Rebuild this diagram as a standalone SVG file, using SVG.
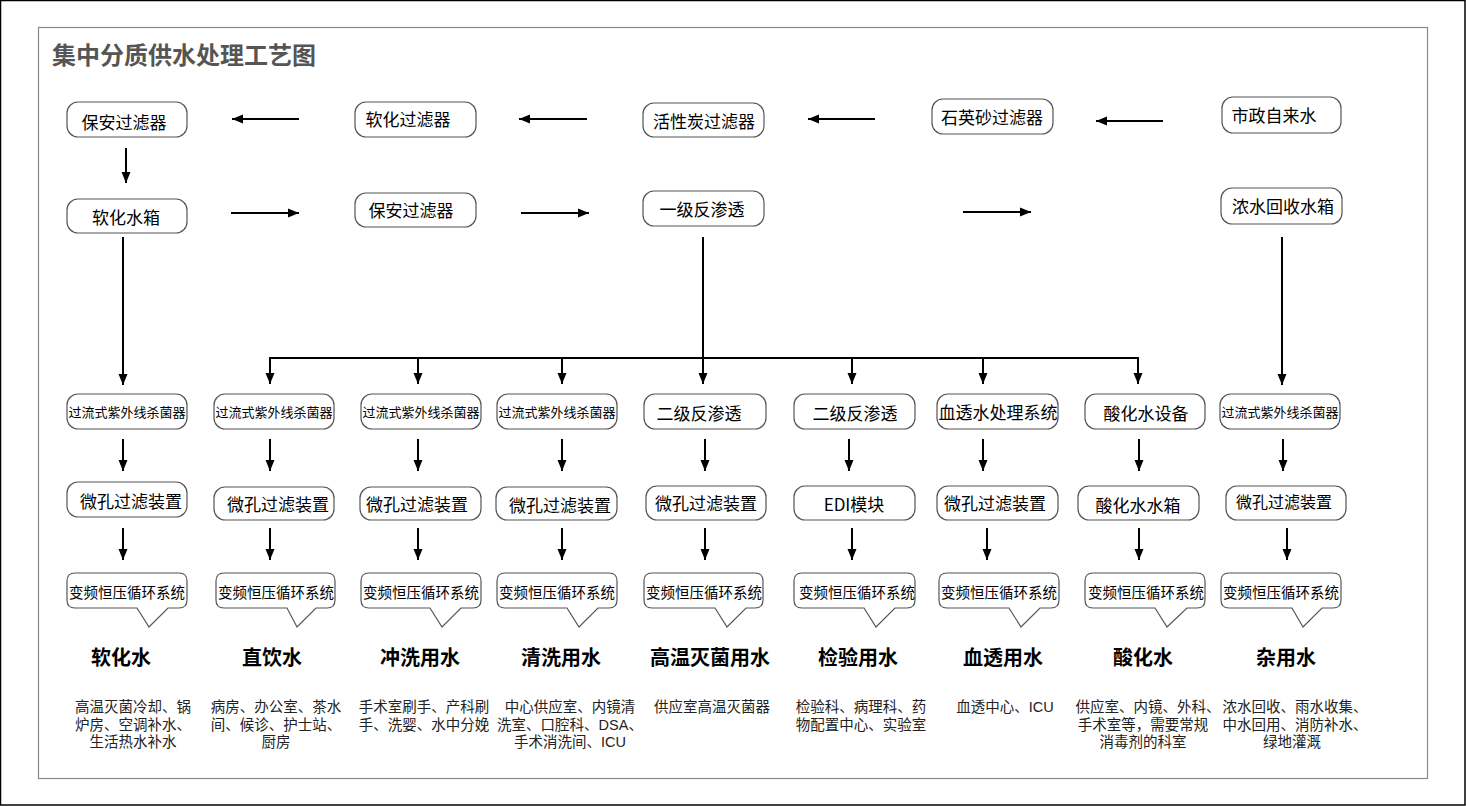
<svg xmlns="http://www.w3.org/2000/svg" width="1466" height="806" viewBox="0 0 1466 806">
<defs>
<marker id="ah" markerUnits="userSpaceOnUse" markerWidth="12" markerHeight="12" viewBox="0 0 12 12" refX="11" refY="6" orient="auto">
<path d="M0,1.5 L11,6 L0,10.5 Z" fill="#000"/>
</marker>
</defs>
<style>
.box{fill:#fff;stroke:#555;stroke-width:1.2}
.t{font-family:"Noto Sans CJK SC","Liberation Sans",sans-serif;font-size:17px;fill:#000;text-anchor:middle;dominant-baseline:central}
.ts{font-size:14.5px}
.tu{font-size:13px}
.h{font-family:"Noto Sans CJK SC","Liberation Sans",sans-serif;font-size:20px;font-weight:bold;fill:#000;text-anchor:middle}
.d{font-family:"Liberation Sans","Noto Sans CJK SC",sans-serif;font-size:14.5px;fill:#222;text-anchor:middle}
.c{fill:none;stroke:#000;stroke-width:2}
.a{fill:none;stroke:#000;stroke-width:2;marker-end:url(#ah)}
</style>
<rect x="0.5" y="0.5" width="1464.5" height="804.5" fill="#fff" stroke="#000" stroke-width="1.5"/>
<rect x="38.5" y="27.5" width="1389" height="751" fill="#fff" stroke="#888" stroke-width="1.2"/>
<text x="52" y="64" font-family="'Noto Sans CJK SC','Liberation Sans',sans-serif" font-size="24" font-weight="bold" fill="#555">集中分质供水处理工艺图</text>

<g id="connectors">
<line class="a" x1="299" y1="119" x2="232" y2="119"/>
<line class="a" x1="587" y1="119" x2="519" y2="119"/>
<line class="a" x1="875" y1="119" x2="808" y2="119"/>
<line class="a" x1="1163" y1="121" x2="1096" y2="121"/>
<line class="a" x1="126" y1="148" x2="126" y2="183"/>
<line class="a" x1="231" y1="213" x2="299" y2="213"/>
<line class="a" x1="521" y1="213" x2="589" y2="213"/>
<line class="a" x1="963" y1="212" x2="1031" y2="212"/>
<line class="a" x1="123" y1="237" x2="123" y2="385"/>
<line class="a" x1="703" y1="237" x2="703" y2="384"/>
<line class="a" x1="1282" y1="237" x2="1282" y2="385"/>
<line class="c" x1="269" y1="358" x2="1139" y2="358"/>
<line class="a" x1="270" y1="357" x2="270" y2="384"/>
<line class="a" x1="418" y1="357" x2="418" y2="384"/>
<line class="a" x1="562" y1="357" x2="562" y2="384"/>
<line class="a" x1="852" y1="357" x2="852" y2="384"/>
<line class="a" x1="983" y1="357" x2="983" y2="384"/>
<line class="a" x1="1138" y1="357" x2="1138" y2="384"/>
<line class="a" x1="123" y1="439" x2="123" y2="471"/>
<line class="a" x1="270" y1="439" x2="270" y2="471"/>
<line class="a" x1="418" y1="439" x2="418" y2="471"/>
<line class="a" x1="562" y1="439" x2="562" y2="471"/>
<line class="a" x1="705" y1="439" x2="705" y2="471"/>
<line class="a" x1="849" y1="439" x2="849" y2="471"/>
<line class="a" x1="983" y1="439" x2="983" y2="471"/>
<line class="a" x1="1139" y1="439" x2="1139" y2="471"/>
<line class="a" x1="1283" y1="439" x2="1283" y2="471"/>
<line class="a" x1="123" y1="528" x2="123" y2="560"/>
<line class="a" x1="270" y1="528" x2="270" y2="560"/>
<line class="a" x1="418" y1="528" x2="418" y2="560"/>
<line class="a" x1="562" y1="528" x2="562" y2="560"/>
<line class="a" x1="705" y1="528" x2="705" y2="560"/>
<line class="a" x1="852" y1="528" x2="852" y2="560"/>
<line class="a" x1="987" y1="528" x2="987" y2="560"/>
<line class="a" x1="1139" y1="528" x2="1139" y2="560"/>
<line class="a" x1="1287" y1="528" x2="1287" y2="560"/>
</g>

<!-- Row 1 -->
<g id="n-baoan1"><rect class="box" x="67" y="102" width="120" height="35" rx="11"/><text class="t" x="124" y="121">保安过滤器</text></g>
<g id="n-ruanhua-filter"><rect class="box" x="355" y="102" width="121" height="35" rx="11"/><text class="t" x="408" y="118">软化过滤器</text></g>
<g id="n-huoxingtan"><rect class="box" x="643" y="103" width="121" height="34" rx="11"/><text class="t" x="704" y="120">活性炭过滤器</text></g>
<g id="n-shiying"><rect class="box" x="932" y="99" width="121" height="35" rx="11"/><text class="t" x="992" y="116">石英砂过滤器</text></g>
<g id="n-shizheng"><rect class="box" x="1222" y="97" width="119" height="36" rx="11"/><text class="t" x="1274" y="114">市政自来水</text></g>

<!-- Row 2 -->
<g id="n-ruanhua-tank"><rect class="box" x="67" y="199" width="120" height="34" rx="11"/><text class="t" x="126" y="216">软化水箱</text></g>
<g id="n-baoan2"><rect class="box" x="355" y="193" width="121" height="34" rx="11"/><text class="t" x="411" y="209">保安过滤器</text></g>
<g id="n-ro1"><rect class="box" x="643" y="191" width="121" height="35" rx="11"/><text class="t" x="702" y="208">一级反渗透</text></g>
<g id="n-nongshui"><rect class="box" x="1221" y="188" width="121" height="36" rx="11"/><text class="t" x="1283" y="205">浓水回收水箱</text></g>

<!-- Row 3 -->
<g id="n-uv1"><rect class="box" x="67" y="394" width="120" height="35" rx="11"/><text class="t tu" x="127" y="411">过流式紫外线杀菌器</text></g>
<g id="n-uv2"><rect class="box" x="214" y="394" width="120" height="35" rx="11"/><text class="t tu" x="274" y="411">过流式紫外线杀菌器</text></g>
<g id="n-uv3"><rect class="box" x="361" y="394" width="120" height="35" rx="11"/><text class="t tu" x="421" y="411">过流式紫外线杀菌器</text></g>
<g id="n-uv4"><rect class="box" x="497" y="394" width="120" height="35" rx="11"/><text class="t tu" x="557" y="411">过流式紫外线杀菌器</text></g>
<g id="n-ro2a"><rect class="box" x="644" y="394" width="122" height="35" rx="11"/><text class="t" x="699" y="412">二级反渗透</text></g>
<g id="n-ro2b"><rect class="box" x="794" y="394" width="121" height="35" rx="11"/><text class="t" x="855" y="412">二级反渗透</text></g>
<g id="n-xuetou-sys"><rect class="box" x="937" y="394" width="121" height="35" rx="11"/><text class="t" x="998" y="411">血透水处理系统</text></g>
<g id="n-suanhua-dev"><rect class="box" x="1085" y="394" width="120" height="35" rx="11"/><text class="t" x="1146" y="412">酸化水设备</text></g>
<g id="n-uv9"><rect class="box" x="1220" y="394" width="120" height="35" rx="11"/><text class="t tu" x="1280" y="411">过流式紫外线杀菌器</text></g>

<!-- Row 4 -->
<g id="n-mk1"><rect class="box" x="67" y="482" width="120" height="35" rx="11"/><text class="t" x="131" y="500">微孔过滤装置</text></g>
<g id="n-mk2"><rect class="box" x="214" y="487" width="120" height="33" rx="11"/><text class="t" x="278" y="503">微孔过滤装置</text></g>
<g id="n-mk3"><rect class="box" x="360" y="487" width="121" height="33" rx="11"/><text class="t" x="417" y="503">微孔过滤装置</text></g>
<g id="n-mk4"><rect class="box" x="496" y="487" width="121" height="33" rx="11"/><text class="t" x="560" y="504">微孔过滤装置</text></g>
<g id="n-mk5"><rect class="box" x="646" y="486" width="120" height="34" rx="11"/><text class="t" x="706" y="502">微孔过滤装置</text></g>
<g id="n-edi"><rect class="box" x="794" y="486" width="121" height="34" rx="11"/><text class="t" x="854" y="503">EDI模块</text></g>
<g id="n-mk7"><rect class="box" x="937" y="486" width="121" height="34" rx="11"/><text class="t" x="995" y="502">微孔过滤装置</text></g>
<g id="n-suanhua-tank"><rect class="box" x="1078" y="486" width="121" height="34" rx="11"/><text class="t" x="1138" y="504">酸化水水箱</text></g>
<g id="n-mk9"><rect class="box" x="1226" y="486" width="120" height="34" rx="11"/><text class="t" x="1284" y="501" style="font-size:16px">微孔过滤装置</text></g>

<!-- Row 5 callouts -->
<g id="n-bp1"><path class="box" d="M75,573 H179 Q187,573 187,581 V600 Q187,608 179,608 H168 L149,627 L137,608 H75 Q67,608 67,600 V581 Q67,573 75,573 Z"/><text class="t ts" x="127" y="591">变频恒压循环系统</text></g>
<g id="n-bp2"><path class="box" d="M224,573 H327 Q335,573 335,581 V600 Q335,608 327,608 H316 L297,627 L287,608 H224 Q216,608 216,600 V581 Q216,573 224,573 Z"/><text class="t ts" x="276" y="591">变频恒压循环系统</text></g>
<g id="n-bp3"><path class="box" d="M369,573 H473 Q481,573 481,581 V600 Q481,608 473,608 H461 L442,627 L430,608 H369 Q361,608 361,600 V581 Q361,573 369,573 Z"/><text class="t ts" x="421" y="591">变频恒压循环系统</text></g>
<g id="n-bp4"><path class="box" d="M505,573 H609 Q617,573 617,581 V600 Q617,608 609,608 H598 L579,627 L567,608 H505 Q497,608 497,600 V581 Q497,573 505,573 Z"/><text class="t ts" x="557" y="591">变频恒压循环系统</text></g>
<g id="n-bp5"><path class="box" d="M652,573 H755 Q763,573 763,581 V600 Q763,608 755,608 H746 L727,627 L715,608 H652 Q644,608 644,600 V581 Q644,573 652,573 Z"/><text class="t ts" x="704" y="591">变频恒压循环系统</text></g>
<g id="n-bp6"><path class="box" d="M802,573 H907 Q915,573 915,581 V600 Q915,608 907,608 H895 L876,627 L864,608 H802 Q794,608 794,600 V581 Q794,573 802,573 Z"/><text class="t ts" x="857" y="591">变频恒压循环系统</text></g>
<g id="n-bp7"><path class="box" d="M947,573 H1051 Q1059,573 1059,581 V600 Q1059,608 1051,608 H1040 L1021,627 L1009,608 H947 Q939,608 939,600 V581 Q939,573 947,573 Z"/><text class="t ts" x="999" y="591">变频恒压循环系统</text></g>
<g id="n-bp8"><path class="box" d="M1093,573 H1197 Q1205,573 1205,581 V600 Q1205,608 1197,608 H1187 L1167,627 L1155,608 H1093 Q1085,608 1085,600 V581 Q1085,573 1093,573 Z"/><text class="t ts" x="1146" y="591">变频恒压循环系统</text></g>
<g id="n-bp9"><path class="box" d="M1229,573 H1333 Q1341,573 1341,581 V600 Q1341,608 1333,608 H1322 L1303,627 L1292,608 H1229 Q1221,608 1221,600 V581 Q1221,573 1229,573 Z"/><text class="t ts" x="1281" y="591">变频恒压循环系统</text></g>

<!-- Headings and descriptions -->
<g id="u-ruanhua"><text class="h" x="121" y="665">软化水</text><text class="d" x="133" y="712">高温灭菌冷却、锅</text><text class="d" x="133" y="729.5">炉房、空调补水、</text><text class="d" x="133" y="747">生活热水补水</text></g>
<g id="u-zhiyin"><text class="h" x="272" y="665">直饮水</text><text class="d" x="276" y="712">病房、办公室、茶水</text><text class="d" x="276" y="729.5">间、候诊、护士站、</text><text class="d" x="276" y="747">厨房</text></g>
<g id="u-chongxi"><text class="h" x="420" y="665">冲洗用水</text><text class="d" x="424" y="712">手术室刷手、产科刷</text><text class="d" x="424" y="729.5">手、洗婴、水中分娩</text></g>
<g id="u-qingxi"><text class="h" x="561" y="665">清洗用水</text><text class="d" x="570" y="712">中心供应室、内镜清</text><text class="d" x="570" y="729.5">洗室、口腔科、DSA、</text><text class="d" x="570" y="747">手术消洗间、ICU</text></g>
<g id="u-gaowen"><text class="h" x="710" y="665">高温灭菌用水</text><text class="d" x="712" y="712">供应室高温灭菌器</text></g>
<g id="u-jianyan"><text class="h" x="858" y="665">检验用水</text><text class="d" x="861" y="712">检验科、病理科、药</text><text class="d" x="861" y="729.5">物配置中心、实验室</text></g>
<g id="u-xuetou"><text class="h" x="1003" y="665">血透用水</text><text class="d" x="1005" y="712">血透中心、ICU</text></g>
<g id="u-suanhua"><text class="h" x="1143" y="665">酸化水</text><text class="d" x="1148" y="712">供应室、内镜、外科、</text><text class="d" x="1143" y="729.5">手术室等，需要常规</text><text class="d" x="1143" y="747">消毒剂的科室</text></g>
<g id="u-zayong"><text class="h" x="1286" y="665">杂用水</text><text class="d" x="1295" y="712">浓水回收、雨水收集、</text><text class="d" x="1295" y="729.5">中水回用、消防补水、</text><text class="d" x="1292" y="747">绿地灌溉</text></g>
</svg>
